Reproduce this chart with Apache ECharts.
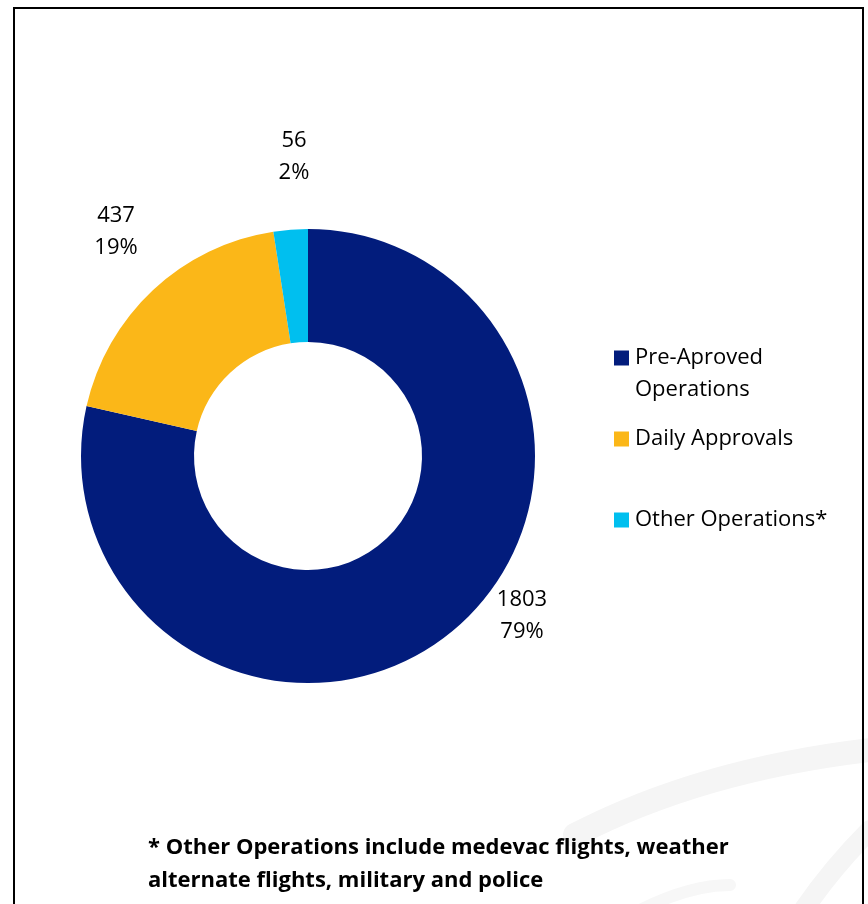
<!DOCTYPE html>
<html>
<head>
<meta charset="utf-8">
<script src="https://cdn.jsdelivr.net/npm/echarts@6/dist/echarts.min.js"></script>
<style>
  html, body { margin: 0; padding: 0; background: #fff; }
  #chart { width: 868px; height: 904px; }
</style>
</head>
<body>
<div id="chart"></div>
<script>
// categories and values
var categories = ['Pre-Aproved Operations', 'Daily Approvals', 'Other Operations*'];
var values = [1803, 437, 56];
var colors = ['#021C7C', '#FBB718', '#00BFEF'];
// where each data label sits (label centre)
var labelSpots = [[522, 616], [116, 232], [294, 157]];

var chart = echarts.init(document.getElementById('chart'));
var font = '"Open Sans", Lato, sans-serif';

var pieData = categories.map(function (name, i) {
    return { name: name, value: values[i], itemStyle: { color: colors[i] } };
});

function oneLegend(i, top, fmt) {
    return {
        data: [categories[i]],
        orient: 'vertical',
        left: 614,
        top: top,
        padding: 0,
        itemWidth: 15,
        itemHeight: 15,
        itemGap: 0,
        icon: 'rect',
        selectedMode: false,
        formatter: fmt,
        textStyle: { fontFamily: font, fontSize: 22, color: '#000', lineHeight: 32, padding: [0, 0, 0, 1] }
    };
}

var option = {
    backgroundColor: '#fff',
    animation: false,
    title: {
        text: '* Other Operations include medevac flights, weather\nalternate flights, military and police',
        left: 148,
        top: 831,
        padding: 0,
        textStyle: { fontFamily: font, fontSize: 22, fontWeight: 'bold', color: '#000', lineHeight: 33 }
    },
    legend: [
        oneLegend(0, 310, function () { return '\nPre-Aproved\nOperations'; }),
        oneLegend(1, 423),
        oneLegend(2, 504)
    ],
    graphic: [
        // faint swoosh watermark
        { type: 'bezierCurve', silent: true, z: -10,
          shape: { x1: 575, y1: 835, cpx1: 700, cpy1: 770, x2: 870, y2: 750 },
          style: { stroke: '#f5f5f5', lineWidth: 24, fill: null, lineCap: 'round' } },
        { type: 'bezierCurve', silent: true, z: -10,
          shape: { x1: 800, y1: 915, cpx1: 830, cpy1: 870, x2: 870, y2: 830 },
          style: { stroke: '#f5f5f5', lineWidth: 20, fill: null, lineCap: 'round' } },
        { type: 'bezierCurve', silent: true, z: -10,
          shape: { x1: 640, y1: 910, cpx1: 690, cpy1: 885, x2: 730, y2: 885 },
          style: { stroke: '#f7f7f7', lineWidth: 12, fill: null, lineCap: 'round' } },
        // frame
        { type: 'rect', silent: true, z: 10,
          shape: { x: 14, y: 8, width: 849, height: 920 },
          style: { stroke: '#000', lineWidth: 2, fill: null } }
    ],
    series: [{
        type: 'pie',
        center: [308, 456],
        radius: [114, 227],
        startAngle: 90,
        clockwise: true,
        avoidLabelOverlap: false,
        percentPrecision: 0,
        emphasis: { disabled: true },
        label: {
            show: true,
            position: 'outside',
            formatter: '{c}\n{d}%',
            fontFamily: font,
            fontSize: 22,
            lineHeight: 32,
            color: '#000'
        },
        labelLine: { show: false },
        labelLayout: function (p) {
            var s = labelSpots[p.dataIndex];
            return { x: s[0], y: s[1], align: 'center', verticalAlign: 'middle' };
        },
        data: pieData
    }]
};

chart.setOption(option);
</script>
</body>
</html>
